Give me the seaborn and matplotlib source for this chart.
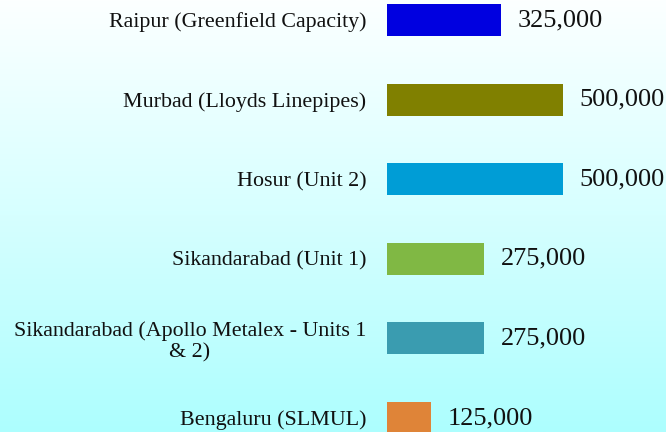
import numpy as np
import pandas as pd
import matplotlib
matplotlib.use("Agg")
import matplotlib.pyplot as plt
import seaborn as sns
from matplotlib.colors import LinearSegmentedColormap

categories = [
    "Raipur (Greenfield Capacity)",
    "Murbad (Lloyds Linepipes)",
    "Hosur (Unit 2)",
    "Sikandarabad (Unit 1)",
    "Sikandarabad (Apollo Metalex - Units 1\n& 2)",
    "Bengaluru (SLMUL)",
]
values = [325000, 500000, 500000, 275000, 275000, 125000]
colors = ["#0000E0", "#808000", "#009DD6", "#80B844", "#3A9CB0", "#DF8438"]

sns.set_theme(style="white")
plt.rcParams['font.family'] = ['Liberation Serif', 'DejaVu Serif']

df = pd.DataFrame({"site": categories, "capacity": values})

fig = plt.figure(figsize=(6.66, 4.32), dpi=100)

# gradient background
bg = fig.add_axes([0, 0, 1, 1], zorder=0)
cmap = LinearSegmentedColormap.from_list("bg", ["#FCFFFF", "#D6FFFF", "#ADFEFE"])
grad = np.linspace(0, 1, 256).reshape(-1, 1)
bg.imshow(grad, aspect="auto", cmap=cmap, extent=[0, 1, 0, 1], origin="upper")
bg.set_axis_off()

ax = fig.add_axes([387 / 666, 0, 279 / 666, 1], zorder=1)
ax.patch.set_alpha(0)
sns.barplot(data=df, y="site", x="capacity", hue="site", palette=colors,
            orient="h", width=0.4, legend=False, ax=ax, saturation=1,
            linewidth=0, edgecolor="none")

ax.set_xlim(0, 792600)
ax.set_ylim(5.176, -0.251)
for s in ax.spines.values():
    s.set_visible(False)
ax.set_xticks([])
ax.set_xlabel("")
ax.set_ylabel("")
ax.tick_params(axis="y", length=0, pad=15, labelsize=15.8, labelcolor="#111111")
for lbl in ax.get_yticklabels():
    lbl.set_multialignment("center")
    lbl.set_linespacing(1.15)

for cont in ax.containers:
    ax.bar_label(cont, labels=[f"{v:,.0f}" for v in cont.datavalues],
                 padding=12, fontsize=18.9, color="#111111")

fig.savefig("out.png", dpi=100)
